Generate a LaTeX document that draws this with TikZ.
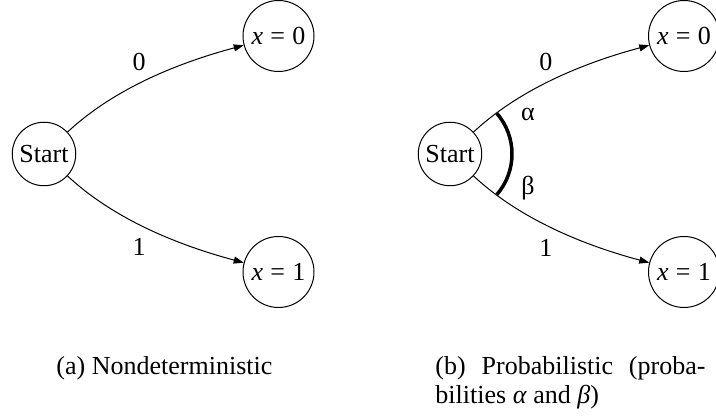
\documentclass[tikz,border=0pt]{standalone}
\usepackage{fontspec}
\setmainfont{Liberation Serif}
\usetikzlibrary{arrows.meta}
\begin{document}
\begin{tikzpicture}[x=0.4pt,y=0.4pt,
  font=\fontsize{10.4}{11.6}\selectfont,
  startnode/.style={draw,circle,line width=0.4pt,inner sep=0pt,minimum size=25.4pt},
  valnode/.style={draw,circle,line width=0.4pt,inner sep=0pt,minimum size=28.4pt},
  edgelabel/.style={inner sep=0pt},
  conn/.style={line width=0.4pt,-{Triangle[length=4pt,width=2.8pt]}},
  probarc/.style={line width=1.4pt},
  caption/.style={inner sep=0pt}]
\useasboundingbox (0,0) rectangle (716,419);
% (a)
\node[startnode] (s1) at (44,265) {Start};
\node[valnode] (a0) at (278.5,383) {\textit{x}\hspace{0.28em}=\hspace{0.28em}0};
\node[valnode] (a1) at (278.5,147) {\textit{x}\hspace{0.28em}=\hspace{0.28em}1};
\draw[conn] (s1) to[out=43,in=195,looseness=0.85] (a0);
\draw[conn] (s1) to[out=-43,in=165,looseness=0.85] (a1);
\node[edgelabel] (la0) at (139,357) {0};
\node[edgelabel] (la1) at (139,172) {1};
\node[caption,anchor=base west] (capa) at (56,44) {(a) Nondeterministic};
% (b)
\node[startnode] (s2) at (450,265) {Start};
\node[valnode] (b0) at (684,383) {\textit{x}\hspace{0.28em}=\hspace{0.28em}0};
\node[valnode] (b1) at (684,147) {\textit{x}\hspace{0.28em}=\hspace{0.28em}1};
\draw[conn] (s2) to[out=43,in=195,looseness=0.85] (b0);
\draw[conn] (s2) to[out=-43,in=165,looseness=0.85] (b1);
\node[edgelabel] (lb0) at (546,357) {0};
\node[edgelabel] (lb1) at (546,171) {1};
\draw[probarc] ([shift={(41:62)}]s2.center) arc[start angle=41,end angle=-41,radius=62];
\node[edgelabel] (alpha) at (528,304) {α};
\node[edgelabel] (beta) at (528,231) {β};
\node[caption,anchor=base west,text width=108pt,align=justify] (capb) at (435,44)
  {(b) Probabilistic (proba-\linebreak bilities \textit{α} and \textit{β})};
\end{tikzpicture}
\end{document}
